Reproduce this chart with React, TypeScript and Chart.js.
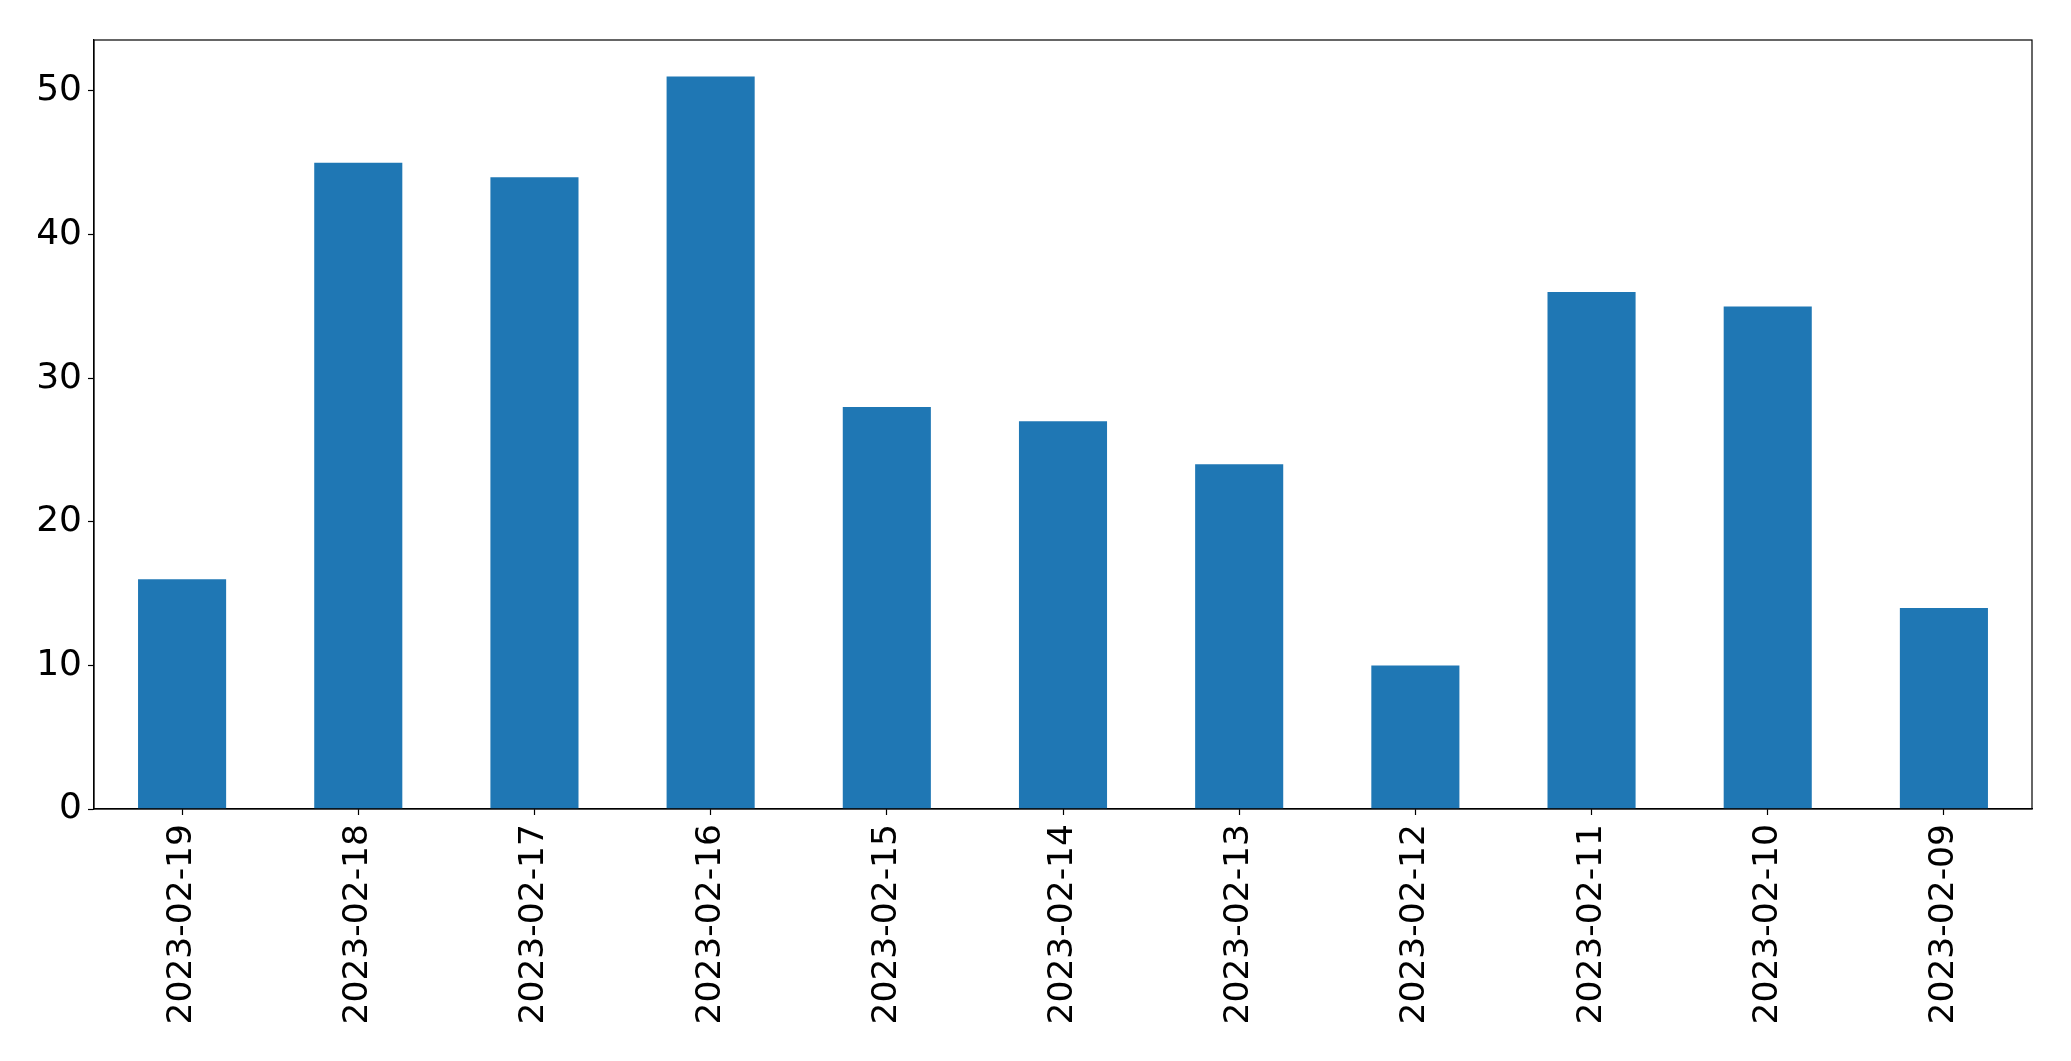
import React, { useEffect, useRef } from "react";
import { Chart, registerables } from "chart.js";

Chart.register(...registerables);

const categories = [
  "2023-02-19", "2023-02-18", "2023-02-17", "2023-02-16", "2023-02-15",
  "2023-02-14", "2023-02-13", "2023-02-12", "2023-02-11", "2023-02-10", "2023-02-09",
];
const values = [16, 45, 44, 51, 28, 27, 24, 10, 36, 35, 14];
const yMax = 53.55;
const yStep = 10;

const W = 2071;
const H = 1061;

const framePlugin = {
  id: "frame",
  afterDraw(chart: any) {
    const { ctx, chartArea } = chart;
    ctx.save();
    ctx.strokeStyle = "#000";
    ctx.lineWidth = 1.2;
    ctx.strokeRect(chartArea.left, chartArea.top, chartArea.right - chartArea.left, chartArea.bottom - chartArea.top);
    ctx.restore();
  },
};

export default function App() {
  const ref = useRef<HTMLCanvasElement>(null);
  useEffect(() => {
    document.body.style.margin = "0";
    const canvas = ref.current!;
    const chart = new Chart(canvas, {
      type: "bar",
      data: {
        labels: categories,
        datasets: [
          {
            data: values,
            backgroundColor: "#1f77b4",
            borderWidth: 0,
            categoryPercentage: 1,
            barPercentage: 0.5,
          },
        ],
      },
      options: {
        animation: false,
        responsive: false,
        devicePixelRatio: 1,
        layout: { padding: { top: 40, right: 39, left: 0, bottom: 0 } },
        plugins: { legend: { display: false }, tooltip: { enabled: false } },
        scales: {
          x: {
            offset: true,
            grid: { display: true, drawOnChartArea: false, offset: false, tickLength: 6, tickColor: "#000", tickWidth: 1.2 },
            border: { display: true, color: "#000", width: 1.2 },
            ticks: {
              minRotation: 90,
              maxRotation: 90,
              autoSkip: false,
              color: "#000",
              padding: 9,
              font: { family: "DejaVu Sans", size: 34.5 },
            },
            afterFit(scale: any) {
              scale.height = 252;
            },
          },
          y: {
            min: 0,
            max: yMax,
            grid: { display: true, drawOnChartArea: false, tickLength: 6, tickColor: "#000", tickWidth: 1.2 },
            border: { display: true, color: "#000", width: 1.2 },
            ticks: {
              stepSize: yStep,
              includeBounds: false,
              color: "#000",
              padding: 6,
              font: { family: "DejaVu Sans", size: 36 },
            },
            afterFit(scale: any) {
              scale.width = 94;
            },
          },
        },
      },
      plugins: [framePlugin],
    } as any);
    return () => chart.destroy();
  }, []);
  return (
    <div style={{ position: "absolute", left: 0, top: 0, width: W, height: H, background: "#fff" }}>
      <canvas ref={ref} width={W} height={H} style={{ width: W, height: H, display: "block" }} />
    </div>
  );
}
